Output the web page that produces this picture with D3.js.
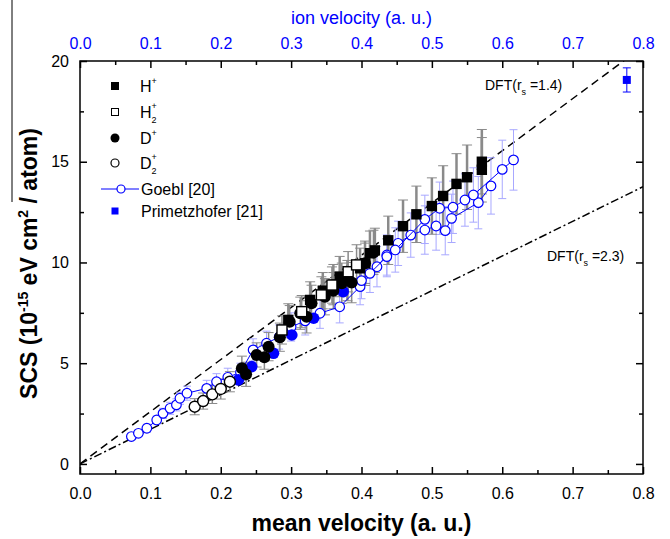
<!DOCTYPE html>
<html lang="en">
<head>
    <meta charset="UTF-8">
    <script src="https://d3js.org/d3.v7.min.js"></script>
    <title>SCS vs velocity</title>
    <style>
        body { margin: 0; background: #fff; }
        text { font-family: "Liberation Sans", Arial, sans-serif; }
    </style>
</head>
<body>
</body>
<script>
    // ---- data ----
    // H+ (filled squares)
    let hpV = [0.296, 0.327, 0.345, 0.36, 0.369, 0.38, 0.398, 0.405, 0.412, 0.419, 0.438, 0.459, 0.478, 0.500, 0.516, 0.535, 0.550, 0.571, 0.571];
    let hpS = [7.15, 8.14, 8.6, 8.9, 9.3, 9.1, 9.71, 9.96, 10.46, 10.6, 11.1, 11.8, 12.39, 12.8, 13.3, 13.9, 14.23, 14.6, 15.0];
    let hpE = [0.8, 0.9, 0.9, 1.0, 1.0, 1.0, 1.0, 1.1, 1.1, 1.1, 1.2, 1.3, 1.4, 1.4, 1.5, 1.5, 1.6, 1.6, 1.6];
    // H2+ (open squares)
    let h2V = [0.287, 0.315, 0.343, 0.358, 0.381, 0.393];
    let h2S = [6.65, 7.56, 8.39, 8.88, 9.54, 9.88];
    let h2E = [0.7, 0.8, 0.9, 0.9, 1.0, 1.0];
    // D+ (filled circles)
    let dpV = [0.23, 0.236, 0.251, 0.262, 0.268, 0.284, 0.298, 0.313, 0.322, 0.329, 0.348, 0.36, 0.372, 0.386, 0.405, 0.417];
    let dpS = [4.75, 4.45, 5.41, 5.3, 5.82, 6.29, 7.06, 7.48, 7.3, 7.97, 8.3, 8.6, 8.97, 9.0, 9.96, 10.5];
    let dpE = [0.6, 0.6, 0.6, 0.6, 0.7, 0.7, 0.8, 0.8, 0.8, 0.9, 0.9, 0.9, 1.0, 1.0, 1.0, 1.1];
    // D2+ (open circles)
    let d2V = [0.163, 0.175, 0.188, 0.200, 0.213];
    let d2S = [2.84, 3.12, 3.45, 3.72, 4.08];
    let d2E = [0.4, 0.4, 0.45, 0.5, 0.5];
    // Goebl [20] - two connected runs
    let goeblV1 = [0.073, 0.083, 0.095, 0.109, 0.118, 0.128, 0.137, 0.142, 0.152, 0.180, 0.194, 0.21, 0.228, 0.246, 0.265, 0.283, 0.30, 0.32, 0.341, 0.369, 0.398, 0.422, 0.436, 0.452, 0.470, 0.490, 0.506, 0.519, 0.528, 0.566, 0.584];
    let goeblS1 = [1.36, 1.52, 1.77, 2.18, 2.51, 2.76, 2.93, 3.26, 3.51, 3.75, 4.08, 4.3, 4.55, 5.66, 5.99, 6.3, 6.8, 7.1, 7.48, 7.8, 8.8, 9.79, 10.37, 10.95, 11.36, 11.61, 11.81, 11.58, 12.19, 12.97, 13.8];
    let goeblE1 = [0.15, 0.15, 0.2, 0.2, 0.25, 0.3, 0.3, 0.3, 0.35, 0.4, 0.4, 0.45, 0.45, 0.55, 0.6, 0.6, 0.7, 0.7, 0.75, 0.8, 0.9, 1.0, 1.0, 1.1, 1.1, 1.2, 1.2, 1.2, 1.2, 1.3, 1.4];
    let goeblV2 = [0.40, 0.412, 0.436, 0.448, 0.49, 0.511, 0.53, 0.547, 0.559, 0.60, 0.616];
    let goeblS2 = [9.1, 9.46, 10.29, 10.62, 12.14, 12.69, 12.74, 13.1, 13.35, 14.62, 15.09];
    let goeblE2 = [0.9, 0.95, 1.0, 1.1, 1.2, 1.3, 1.3, 1.3, 1.35, 1.45, 1.5];
    // Primetzhofer [21]
    let primV = [0.225, 0.244, 0.275, 0.301, 0.332, 0.374, 0.777];
    let primS = [4.17, 4.83, 5.49, 6.40, 7.23, 8.55, 19.06];
    let primE = [0.3, 0.3, 0.4, 0.4, 0.5, 0.5, 0.6];
    // DFT slopes (SCS per a.u. velocity)
    let dftSlopes = [25.9, 17.2];
    let dftNames = ["1.4", "2.3"];
    // ticks
    let xTicks = [0, 0.1, 0.2, 0.3, 0.4, 0.5, 0.6, 0.7, 0.8];
    let xMinor = [0.05, 0.15, 0.25, 0.35, 0.45, 0.55, 0.65, 0.75];
    let yTicks = [0, 5, 10, 15, 20];
    let yMinor = [2.5, 7.5, 12.5, 17.5];

    let blue = "#0000ff";
    let grey = "#8a8a8a";
    let lightBlue = "#a8a8ff";

    let svg = d3.select("body")
        .append("svg")
        .attr("width", 670)
        .attr("height", 539)

    let pLeft = 80, pRight = 643, pTop = 61, pBottom = 474;

    let xScale = d3.scaleLinear().domain([0, 0.8]).range([pLeft, pRight]);
    let yScale = d3.scaleLinear().domain([-0.5, 20]).range([pBottom, pTop]);

    let zip = (vs, ss, es) => vs.map((v, i) => ({v: v, s: ss[i], e: es ? es[i] : 0}));

    // clip for the lines
    svg.append("clipPath").attr("id", "plot")
        .append("rect")
        .attr("x", pLeft).attr("y", pTop)
        .attr("width", pRight - pLeft).attr("height", pBottom - pTop);

    // DFT lines
    let dft = svg.append("g").attr("clip-path", "url(#plot)");
    dftSlopes.forEach((k, i) => {
        dft.append("line")
            .attr("x1", xScale(0)).attr("y1", yScale(0))
            .attr("x2", xScale(0.8)).attr("y2", yScale(0.8 * k))
            .attr("stroke", "black")
            .attr("stroke-width", 1.5)
            .attr("stroke-dasharray", i == 0 ? "8,5" : "8,3,2,3");
    });

    // error bars
    function errorBars(data, color, width, cap) {
        let g = svg.append("g").attr("stroke", color).attr("stroke-width", width).attr("fill", "none");
        data.forEach(d => {
            let x = xScale(d.v);
            g.append("line").attr("x1", x).attr("x2", x)
                .attr("y1", yScale(d.s - d.e)).attr("y2", yScale(d.s + d.e));
            [d.s - d.e, d.s + d.e].forEach(t => {
                g.append("line").attr("x1", x - cap).attr("x2", x + cap)
                    .attr("y1", yScale(t)).attr("y2", yScale(t)).attr("stroke-width", 1);
            });
        });
    }

    let goebl1 = zip(goeblV1, goeblS1, goeblE1);
    let goebl2 = zip(goeblV2, goeblS2, goeblE2);
    let prim = zip(primV, primS, primE);
    let hp = zip(hpV, hpS, hpE);
    let h2 = zip(h2V, h2S, h2E);
    let dp = zip(dpV, dpS, dpE);
    let d2 = zip(d2V, d2S, d2E);

    errorBars(goebl1, lightBlue, 1, 4);
    errorBars(goebl2, lightBlue, 1, 4);
    errorBars(d2, grey, 1.5, 5);
    errorBars(dp, grey, 1.5, 5);
    errorBars(h2, grey, 1.5, 5);
    errorBars(hp, grey, 2.5, 5);

    // Goebl lines and circles
    let line = d3.line().x(d => xScale(d.v)).y(d => yScale(d.s));
    [goebl1, goebl2].forEach(run => {
        svg.append("path").attr("d", line(run))
            .attr("fill", "none").attr("stroke", blue).attr("stroke-width", 1);
        svg.append("g").selectAll("circle")
            .data(run).enter().append("circle")
            .attr("cx", d => xScale(d.v)).attr("cy", d => yScale(d.s))
            .attr("r", 4.8)
            .attr("fill", "white").attr("stroke", blue).attr("stroke-width", 1.2);
    });

    // Primetzhofer
    errorBars(prim.slice(-1), blue, 1, 4);
    prim.forEach(d => {
        if (d.v < 0.5) {
            svg.append("circle").attr("cx", xScale(d.v)).attr("cy", yScale(d.s))
                .attr("r", 5.8).attr("fill", blue);
        } else {
            svg.append("rect").attr("x", xScale(d.v) - 4).attr("y", yScale(d.s) - 4)
                .attr("width", 8).attr("height", 8).attr("fill", blue);
        }
    });

    // D2+ open circles
    svg.append("g").selectAll("circle").data(d2).enter().append("circle")
        .attr("cx", d => xScale(d.v)).attr("cy", d => yScale(d.s))
        .attr("r", 5.5).attr("fill", "white").attr("stroke", "black").attr("stroke-width", 1.4);
    // D+ filled circles
    svg.append("g").selectAll("circle").data(dp).enter().append("circle")
        .attr("cx", d => xScale(d.v)).attr("cy", d => yScale(d.s))
        .attr("r", 6).attr("fill", "black");
    // H+ filled squares
    svg.append("g").selectAll("rect").data(hp).enter().append("rect")
        .attr("x", d => xScale(d.v) - 5.2).attr("y", d => yScale(d.s) - 5.2)
        .attr("width", 10.4).attr("height", 10.4).attr("fill", "black");
    // H2+ open squares
    svg.append("g").selectAll("rect").data(h2).enter().append("rect")
        .attr("x", d => xScale(d.v) - 5).attr("y", d => yScale(d.s) - 5)
        .attr("width", 10).attr("height", 10)
        .attr("fill", "white").attr("stroke", "black").attr("stroke-width", 1.4);

    // frame
    svg.append("rect")
        .attr("x", pLeft).attr("y", pTop)
        .attr("width", pRight - pLeft).attr("height", pBottom - pTop)
        .attr("fill", "none").attr("stroke", "black").attr("stroke-width", 1.5);

    // axes
    function styleAxis(g, color) {
        g.select(".domain").remove();
        g.selectAll(".tick line").attr("stroke", "black").attr("stroke-width", 1.5);
        g.selectAll(".tick text")
            .attr("font-size", 16)
            .attr("font-family", "Liberation Sans, Arial, sans-serif")
            .attr("fill", color);
    }

    svg.append("g").attr("transform", `translate(0,${pBottom})`)
        .call(d3.axisBottom(xScale).tickValues(xTicks).tickSize(-7).tickPadding(14).tickFormat(d3.format(".1f")))
        .call(g => styleAxis(g, "black"));
    svg.append("g").attr("transform", `translate(0,${pBottom})`)
        .call(d3.axisBottom(xScale).tickValues(xMinor).tickSize(-4).tickFormat(""))
        .call(g => styleAxis(g, "black"));
    svg.append("g").attr("transform", `translate(0,${pTop})`)
        .call(d3.axisTop(xScale).tickValues(xTicks).tickSize(-7).tickPadding(12).tickFormat(d3.format(".1f")))
        .call(g => styleAxis(g, blue));
    svg.append("g").attr("transform", `translate(0,${pTop})`)
        .call(d3.axisTop(xScale).tickValues(xMinor).tickSize(-4).tickFormat(""))
        .call(g => styleAxis(g, blue));
    svg.append("g").attr("transform", `translate(${pLeft},0)`)
        .call(d3.axisLeft(yScale).tickValues(yTicks).tickSize(-7).tickPadding(11))
        .call(g => styleAxis(g, "black"));
    svg.append("g").attr("transform", `translate(${pLeft},0)`)
        .call(d3.axisLeft(yScale).tickValues(yMinor).tickSize(-4).tickFormat(""))
        .call(g => styleAxis(g, "black"));
    svg.append("g").attr("transform", `translate(${pRight},0)`)
        .call(d3.axisRight(yScale).tickValues(yTicks).tickSize(-7).tickFormat(""))
        .call(g => styleAxis(g, "black"));
    svg.append("g").attr("transform", `translate(${pRight},0)`)
        .call(d3.axisRight(yScale).tickValues(yMinor).tickSize(-4).tickFormat(""))
        .call(g => styleAxis(g, "black"));

    // axis titles
    svg.append("text")
        .attr("x", (pLeft + pRight) / 2).attr("y", 531)
        .attr("text-anchor", "middle")
        .attr("font-size", 23).attr("font-weight", "bold")
        .text("mean velocity (a. u.)");

    svg.append("text")
        .attr("x", (pLeft + pRight) / 2).attr("y", 24)
        .attr("text-anchor", "middle")
        .attr("font-size", 18).attr("fill", blue)
        .text("ion velocity (a. u.)");

    let yt = svg.append("text")
        .attr("transform", `translate(37,${(pTop + pBottom) / 2 - 4}) rotate(-90)`)
        .attr("text-anchor", "middle")
        .attr("font-size", 23).attr("font-weight", "bold");
    yt.append("tspan").text("SCS (10");
    yt.append("tspan").attr("dy", -9).attr("font-size", 14).text("-15");
    yt.append("tspan").attr("dy", 9).text(" eV cm");
    yt.append("tspan").attr("dy", -9).attr("font-size", 14).text("2");
    yt.append("tspan").attr("dy", 9).text(" / atom)");

    svg.append("line")
        .attr("x1", 12).attr("x2", 12).attr("y1", 0).attr("y2", 202)
        .attr("stroke", "black").attr("stroke-width", 1);

    // DFT labels
    let dftLabelPos = [[485, 90], [547, 261]];
    dftNames.forEach((n, i) => {
        let t = svg.append("text")
            .attr("x", dftLabelPos[i][0]).attr("y", dftLabelPos[i][1])
            .attr("font-size", 14);
        t.append("tspan").text("DFT(r");
        t.append("tspan").attr("dy", 5).attr("font-size", 9).text("s");
        t.append("tspan").attr("dy", -5).text(" =" + n + ")");
    });

    // legend
    let lg = svg.append("g").attr("font-size", 16);
    let lx = 115, tx = 140;
    let rows = [86, 112, 138, 163, 189, 211];

    lg.append("rect").attr("x", lx - 4).attr("y", rows[0] - 4).attr("width", 8).attr("height", 8).attr("fill", "black");
    lg.append("rect").attr("x", lx - 3.5).attr("y", rows[1] - 3.5).attr("width", 7).attr("height", 7)
        .attr("fill", "white").attr("stroke", "black").attr("stroke-width", 1);
    lg.append("circle").attr("cx", lx).attr("cy", rows[2]).attr("r", 4.5).attr("fill", "black");
    lg.append("circle").attr("cx", lx).attr("cy", rows[3]).attr("r", 4).attr("fill", "white")
        .attr("stroke", "black").attr("stroke-width", 1.2);
    lg.append("line").attr("x1", 101).attr("x2", 139).attr("y1", rows[4]).attr("y2", rows[4])
        .attr("stroke", blue).attr("stroke-width", 1);
    lg.append("circle").attr("cx", 121).attr("cy", rows[4]).attr("r", 4).attr("fill", "white")
        .attr("stroke", blue).attr("stroke-width", 1.2);
    lg.append("rect").attr("x", lx - 3.5).attr("y", rows[5] - 3.5).attr("width", 7).attr("height", 7).attr("fill", blue);

    function ionLabel(row, base, sub) {
        let t = lg.append("text").attr("x", tx).attr("y", row + 6);
        t.append("tspan").text(base);
        if (sub) {
            t.append("tspan").attr("dy", 5).attr("font-size", 9).text(sub);
            t.append("tspan").attr("dx", -5).attr("dy", -14).attr("font-size", 9).text("+");
        } else {
            t.append("tspan").attr("dy", -8).attr("font-size", 9).text("+");
        }
    }
    ionLabel(rows[0], "H", null);
    ionLabel(rows[1], "H", "2");
    ionLabel(rows[2], "D", null);
    ionLabel(rows[3], "D", "2");
    lg.append("text").attr("x", tx + 1).attr("y", rows[4] + 6).text("Goebl [20]");
    lg.append("text").attr("x", tx + 1).attr("y", rows[5] + 6).text("Primetzhofer [21]");
</script>
</html>
